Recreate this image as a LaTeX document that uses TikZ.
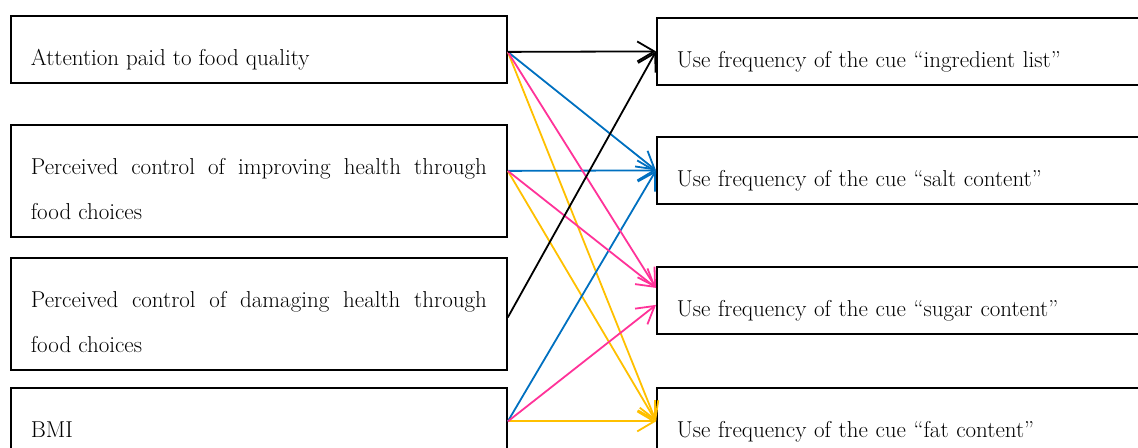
\documentclass[tikz,border=0pt]{standalone}
\usetikzlibrary{arrows.meta}
\definecolor{cueblue}{HTML}{0070C0}
\definecolor{cuepink}{HTML}{FF3399}
\definecolor{cueyellow}{HTML}{FFC000}
\tikzset{
  factor/.style={draw, line width=1.8bp, anchor=north west, inner xsep=20bp, inner ysep=0pt,
    text width=456bp, align=justify, text height=50bp, text depth=17bp,
    font=\fontsize{23bp}{45bp}\selectfont},
  twolines/.style={text depth=62bp},
  cue/.style={factor, text width=484bp, align=left},
  link/.style={line width=1.8bp, -{Straight Barb[length=17bp,width=20bp]}}
}

\begin{document}
\begin{tikzpicture}[x=1bp, y=-1bp]
\clip (0,0) rectangle (1138,448);
\node[factor] (att) at (10,15) {Attention paid to food quality};
\node[factor, twolines] (impr) at (10,124) {Perceived control of improving health through\linebreak food choices};
\node[factor, twolines] (dmg) at (10,257) {Perceived control of damaging health through\linebreak food choices};
\node[factor] (bmi) at (10,387) {BMI};
\node[cue] (ingr) at (656,17) {Use frequency of the cue ``ingredient list''};
\node[cue] (salt) at (656,136) {Use frequency of the cue ``salt content''};
\node[cue] (sugar) at (656,266) {Use frequency of the cue ``sugar content''};
\node[cue] (fat) at (656,387) {Use frequency of the cue ``fat content''};

\coordinate (att-out) at ([yshift=-2.5bp]att.east);
\coordinate (impr-out) at ([yshift=10bp]impr.east);
\coordinate (dmg-out) at ([yshift=-3.5bp]dmg.east);
\coordinate (sugar-in1) at ([yshift=12.5bp]sugar.west);
\coordinate (sugar-in2) at ([yshift=-4.5bp]sugar.west);

\draw [link, cueyellow] (att-out) -- (fat.west);
\draw [link, cueyellow] (impr-out) -- (fat.west);
\draw [link, cueyellow] (bmi.east) -- (fat.west);
\draw [link, cueblue] (att-out) -- (salt.west);
\draw [link, cueblue] (impr-out) -- (salt.west);
\draw [link, cueblue] (bmi.east) -- (salt.west);
\draw [link, cuepink] (att-out) -- (sugar-in1);
\draw [link, cuepink] (impr-out) -- (sugar-in1);
\draw [link, cuepink] (bmi.east) -- (sugar-in2);
\draw [link] (att-out) -- (ingr.west);
\draw [link] (dmg-out) -- (ingr.west);
\end{tikzpicture}
\end{document}
